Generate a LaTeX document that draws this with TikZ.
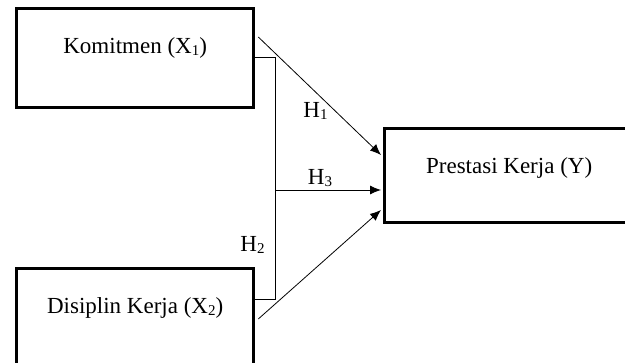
\documentclass[tikz,border=0pt]{standalone}
\usepackage{fontspec}
\setmainfont{Liberation Serif}
\usetikzlibrary{arrows.meta}
\newcommand{\idx}[1]{\raisebox{-1.5pt}{\fontsize{15}{15}\selectfont#1}}
\begin{document}
\begin{tikzpicture}[x=1pt,y=-1pt,
  box/.style={draw,line width=3.3pt,inner sep=0pt,minimum width=#1,text height=45pt},
  link/.style={line width=0.8pt,-{Latex[length=11pt,width=9pt]}},
  lbl/.style={anchor=base,inner sep=0pt},
  font=\fontsize{23}{27}\selectfont]
\useasboundingbox(0,0)rectangle(625,363);
\clip(0,0)rectangle(625,363);
%variables
\node[box=237pt,text depth=54pt,anchor=north west](x1)at(15,7){Komitmen (X\idx{1})};
\node[box=237pt,text depth=52pt,anchor=north west](x2)at(15,267){Disiplin Kerja (X\idx{2})};
\node[box=249pt,text depth=49pt,anchor=north west](y)at(383,127){Prestasi Kerja (Y)};
%bracket
\coordinate(b1)at([xshift=20pt,yshift=-50pt]x1.north east);
\coordinate(b2)at([xshift=20pt,yshift=-32pt]x2.north east);
\draw[line width=0.8pt]([yshift=-50pt]x1.north east)--(b1)--(b2)--([yshift=-32pt]x2.north east);
\coordinate(e3)at([xshift=-2pt,yshift=-63pt]y.north west);
\coordinate(b3)at(b1|-e3);
%hypotheses
\draw[link]([xshift=3pt,yshift=-30pt]x1.north east)--([xshift=-2pt,yshift=-28pt]y.north west);
\draw[link](b3)--(e3);
\draw[link]([xshift=3pt,yshift=-52pt]x2.north east)--([xshift=-2pt,yshift=-83pt]y.north west);
\node[lbl](h1)at(315.5,118){H\idx{1}};
\node[lbl](h3)at(320,185){H\idx{3}};
\node[lbl](h2)at(252.5,252){H\idx{2}};
\end{tikzpicture}
\end{document}
